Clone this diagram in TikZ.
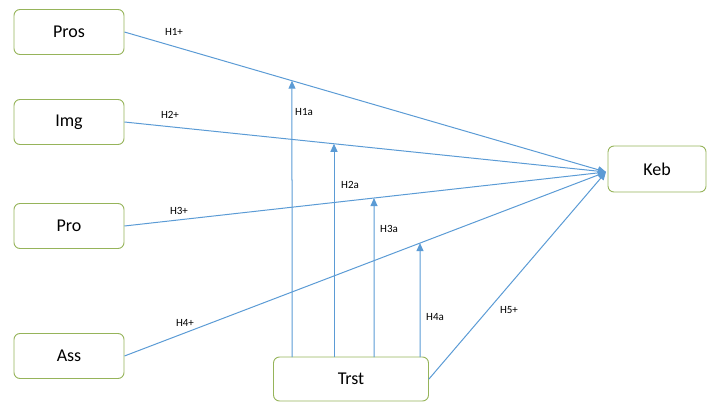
\documentclass[tikz,border=0pt]{standalone}
\usepackage{fontspec}
\setmainfont{Carlito}
\usetikzlibrary{arrows.meta}
\definecolor{linkblue}{RGB}{91,155,213}
\definecolor{boxedge}{RGB}{150,180,90}
\tikzset{
  construct/.style={draw=boxedge, line width=0.9pt, fill=white, rounded corners=6pt,
    minimum width=110pt, minimum height=45pt, inner sep=0pt, font=\fontsize{18}{20}\selectfont},
  path/.style={draw=linkblue, line width=1pt, -{Triangle[width=7pt,length=8pt]}},
  hyp/.style={font=\fontsize{11}{13}\selectfont, inner sep=0pt}
}
\begin{document}
\begin{tikzpicture}[x=1pt, y=-1pt]
\useasboundingbox (0,0) rectangle (708,401);
% constructs
\node[construct] (pros) at (69,32) {Pros};
\node[construct] (img)  at (69,122) {Img};
\node[construct] (pro)  at (69,226) {Pro};
\node[construct] (ass)  at (69,356) {Ass};
\node[construct, minimum width=155pt, minimum height=44pt] (trst) at (351,379) {Trst};
\node[construct, minimum width=98pt, minimum height=46pt] (keb) at (657,169) {Keb};
% direct paths
\coordinate (kin) at (606,172);
\draw[path] (pros.east) -- (kin);
\draw[path] (img.east) -- (kin);
\draw[path] (pro.east) -- (kin);
\draw[path] (ass.east) -- (kin);
\draw[path] (trst.east) -- (kin);
% moderating paths from trust
\coordinate (t1) at (292,357);
\coordinate (t2) at (334,357);
\coordinate (t3) at (374,357);
\coordinate (t4) at (420,357);
\coordinate (m1) at (intersection of pros.east--kin and t1--{292,0});
\coordinate (m2) at (intersection of img.east--kin and t2--{334,0});
\coordinate (m3) at (intersection of pro.east--kin and t3--{374,0});
\coordinate (m4) at (intersection of ass.east--kin and t4--{420,0});
\draw[path] (t1) -- (m1);
\draw[path] (t2) -- (m2);
\draw[path] (t3) -- (m3);
\draw[path] (t4) -- (m4);
% hypothesis labels
\node[hyp] (h1) at (174,32) {H1+};
\node[hyp] (h2) at (170,115) {H2+};
\node[hyp] (h3) at (179,211) {H3+};
\node[hyp] (h4) at (185,323) {H4+};
\node[hyp] (h5) at (509,310) {H5+};
\node[hyp] (h1a) at (304,112) {H1a};
\node[hyp] (h2a) at (350,185) {H2a};
\node[hyp] (h3a) at (389,229) {H3a};
\node[hyp] (h4a) at (435,317) {H4a};
\end{tikzpicture}
\end{document}
